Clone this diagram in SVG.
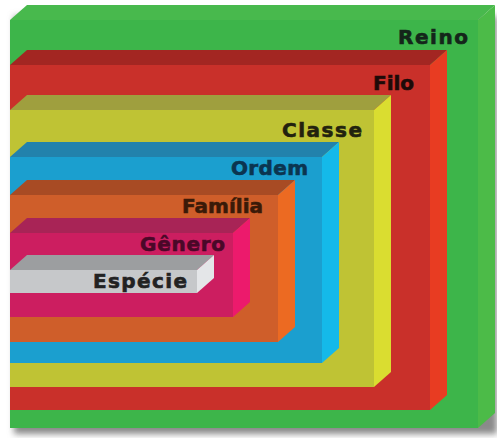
<svg xmlns="http://www.w3.org/2000/svg" width="497" height="438" viewBox="0 0 497 438">
<style>
.lbl{font-family:"DejaVu Sans","Liberation Sans",sans-serif;font-weight:bold;font-size:20px;stroke-width:0.6px}
</style>
<defs>
<filter id="sh" x="-5%" y="-5%" width="110%" height="115%">
<feGaussianBlur stdDeviation="3"/>
</filter>
</defs>
<rect width="497" height="438" fill="#ffffff"/>
<rect x="14" y="16" width="483" height="418" fill="#8a8a8a" filter="url(#sh)"/>
<g id="reino">
<rect x="10" y="20" width="468" height="408" fill="#3db54a"/>
<polygon points="10,20 27,5 495,5 478,20" fill="#48b94d"/>
<polygon points="478,20 495,5 495,413 478,428" fill="#4cbb48"/>
<text class="lbl" x="398" y="44" textLength="70" lengthAdjust="spacing" fill="#14261a" stroke="#14261a">Reino</text>
</g>
<g id="filo">
<rect x="10" y="65" width="420" height="345" fill="#c9302a"/>
<polygon points="10,65 27,50 447,50 430,65" fill="#a32622"/>
<polygon points="430,65 447,50 447,395 430,410" fill="#e83c22"/>
<text class="lbl" x="373" y="90" textLength="41" lengthAdjust="spacing" fill="#1e0a08" stroke="#1e0a08">Filo</text>
</g>
<g id="classe">
<rect x="10" y="110" width="364" height="277" fill="#bfc334"/>
<polygon points="10,110 27,95 391,95 374,110" fill="#9f9f3e"/>
<polygon points="374,110 391,95 391,372 374,387" fill="#dadd30"/>
<text class="lbl" x="282" y="137" textLength="80" lengthAdjust="spacing" fill="#22220e" stroke="#22220e">Classe</text>
</g>
<g id="ordem">
<rect x="10" y="157" width="312" height="206" fill="#1b9fcf"/>
<polygon points="10,157 27,142 339,142 322,157" fill="#2282ac"/>
<polygon points="322,157 339,142 339,348 322,363" fill="#14b9e9"/>
<text class="lbl" x="231" y="175" textLength="77" lengthAdjust="spacing" fill="#0b3550" stroke="#0b3550">Ordem</text>
</g>
<g id="familia">
<rect x="10" y="195" width="268" height="147" fill="#cf5e2a"/>
<polygon points="10,195 27,180 295,180 278,195" fill="#a84b24"/>
<polygon points="278,195 295,180 295,327 278,342" fill="#ec6a22"/>
<text class="lbl" x="182" y="213" textLength="81" lengthAdjust="spacing" fill="#3a1a08" stroke="#3a1a08">Família</text>
</g>
<g id="genero">
<rect x="10" y="233" width="223" height="84" fill="#cc1e60"/>
<polygon points="10,233 27,218 250,218 233,233" fill="#a82456"/>
<polygon points="233,233 250,218 250,302 233,317" fill="#ec1a6c"/>
<text class="lbl" x="140" y="251" textLength="85" lengthAdjust="spacing" fill="#4a0828" stroke="#4a0828">Gênero</text>
</g>
<g id="especie">
<rect x="10" y="270" width="187" height="23" fill="#c6c8ca"/>
<polygon points="10,270 27,255 214,255 197,270" fill="#9c9ea0"/>
<polygon points="197,270 214,255 214,278 197,293" fill="#e4e6e8"/>
<text class="lbl" x="93" y="288" textLength="94" lengthAdjust="spacing" fill="#222222" stroke="#222222">Espécie</text>
</g>
<g id="connectors"/>
</svg>
